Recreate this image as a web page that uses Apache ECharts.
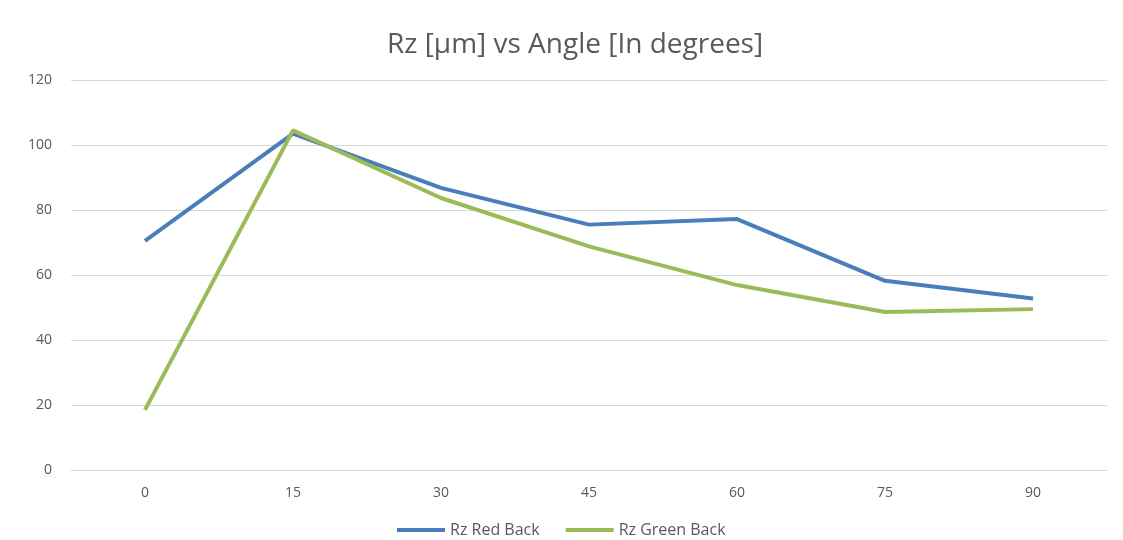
<!DOCTYPE html>
<html>
<head>
<meta charset="utf-8">
<script src="https://cdn.jsdelivr.net/npm/echarts@6/dist/echarts.min.js"></script>
<style>
  html, body { margin: 0; padding: 0; background: #fff; }
  #chart { width: 1123px; height: 540px; }
</style>
</head>
<body>
<div id="chart"></div>
<script>
// Roughness Rz measured at each tilt angle
const angles = ['0', '15', '30', '45', '60', '75', '90'];
const rzRedBack = [70.5, 103.5, 86.8, 75.5, 77.2, 58.2, 52.8];
const rzGreenBack = [18.5, 104.5, 83.7, 68.8, 56.9, 48.6, 49.5];
const seriesNames = ['Rz Red Back', 'Rz Green Back'];
const titleText = 'Rz [\u00b5m] vs Angle [In degrees]';

const chart = echarts.init(document.getElementById('chart'));
const textColor = '#595959';
const baseFont = "'Open Sans', 'DejaVu Sans', sans-serif";

chart.setOption({
  animation: false,
  title: {
    text: titleText,
    left: 382,
    top: 26,
    textStyle: {
      fontFamily: baseFont,
      fontSize: 28,
      fontWeight: 'normal',
      color: textColor
    }
  },
  legend: {
    bottom: 2,
    left: 397,
    padding: 0,
    itemWidth: 48,
    itemHeight: 4,
    itemGap: 26,
    icon: 'rect',
    textStyle: { fontFamily: baseFont, fontSize: 16, color: textColor },
    data: seriesNames
  },
  grid: { left: 71, right: 16, top: 80, bottom: 70 },
  xAxis: {
    type: 'category',
    data: angles,
    boundaryGap: true,
    axisLine: { lineStyle: { color: '#d9d9d9', width: 1 } },
    axisTick: { show: false },
    axisLabel: { fontFamily: baseFont, fontSize: 14, color: textColor, margin: 16 }
  },
  yAxis: {
    type: 'value',
    min: 0,
    max: 120,
    interval: 20,
    axisLine: { show: false },
    axisTick: { show: false },
    splitLine: { lineStyle: { color: '#d9d9d9', width: 1 } },
    axisLabel: { fontFamily: baseFont, fontSize: 14, color: textColor, margin: 19 }
  },
  series: [
    {
      name: seriesNames[0],
      type: 'line',
      data: rzRedBack,
      symbol: 'none',
      lineStyle: { color: '#4A7EBB', width: 4 },
      itemStyle: { color: '#4A7EBB' }
    },
    {
      name: seriesNames[1],
      type: 'line',
      data: rzGreenBack,
      symbol: 'none',
      lineStyle: { color: '#9BBB59', width: 4 },
      itemStyle: { color: '#9BBB59' }
    }
  ]
});
</script>
</body>
</html>
